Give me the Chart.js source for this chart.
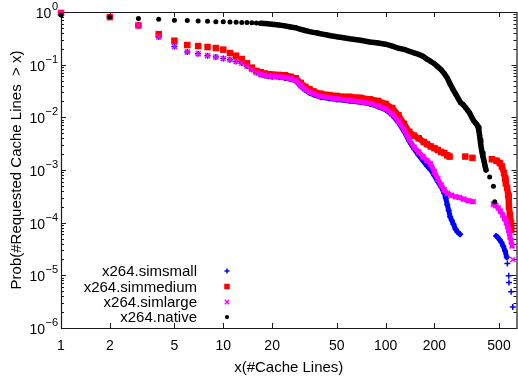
<!DOCTYPE html>
<html><head><meta charset="utf-8">
<script src="https://cdn.jsdelivr.net/npm/chart.js@4/dist/chart.umd.min.js"></script>
<style>html,body{margin:0;padding:0;overflow:hidden;background:#fff}#wrap{width:522px;height:379px}</style>
</head><body><div id="wrap"><canvas id="c" width="522" height="379"></canvas></div>
<script>
// ---- data ----
const xTickValues = [1, 2, 5, 10, 20, 50, 100, 200, 500];
const yTickExponents = [0, -1, -2, -3, -4, -5, -6];
const xTitle = 'x(#Cache Lines)';
const yTitle = 'Prob(#Requested Cache Lines  > x)';
const seriesLabels = ['x264.simsmall', 'x264.simmedium', 'x264.simlarge', 'x264.native'];

const simsmallX = [1,2,3,4,5,6,7,8,9,10,11,12,13,14,15,16,17,18,19,20,22,24,26,28,30,32,34,36,40,45,50,60,70,80,90,100,110,120,130,140,150,160,170,180,190,200,210,220,230,235,240,245,250,256,262,270,278,288,480,493,506,518,531,545,558,563,574,576,594,608];
const simsmallY = [0.96,0.8,0.557,0.335,0.222,0.174,0.161,0.148,0.14,0.131,0.124,0.115,0.107,0.094,0.081,0.071,0.065,0.062,0.06,0.059,0.058,0.056,0.053,0.049,0.039,0.033,0.029,0.027,0.024,0.0228,0.0218,0.0205,0.0193,0.018,0.016,0.014,0.011,0.008,0.0054,0.0035,0.0025,0.0019,0.0015,0.0012,0.001,0.00078,0.0006,0.00048,0.00036,0.00029,0.00022,0.00017,0.00013,0.00011,0.000093,0.000075,0.000066,0.00006,0.000056,0.000052,0.000047,0.000042,0.000036,0.000029,0.000022,0.0000167,0.0000098,0.0000073,0.0000049,0.0000025];
const simsmallBreaks = [288, 558, 563, 574, 576, 594];

const simmediumX = [1,2,3,4,5,6,7,8,9,10,11,12,13,14,15,16,17,18,19,20,22,24,26,28,30,32,34,36,40,45,50,60,70,80,90,100,110,120,130,140,150,160,172,180,190,200,210,220,230,240,248,310,343,452,483,506,521,537,545,551,561,569,576,584,593,595];
const simmediumY = [0.96,0.8,0.557,0.38,0.285,0.236,0.226,0.216,0.207,0.193,0.166,0.148,0.128,0.106,0.088,0.076,0.072,0.068,0.066,0.065,0.064,0.063,0.059,0.055,0.045,0.038,0.034,0.031,0.028,0.0265,0.0255,0.0245,0.0235,0.022,0.0205,0.018,0.015,0.011,0.0075,0.0053,0.0045,0.004,0.0034,0.0031,0.0028,0.0026,0.0024,0.0022,0.0021,0.0019,0.0018,0.0018,0.0017,0.0016,0.0015,0.00136,0.00117,0.00088,0.0007,0.00056,0.00046,0.00034,0.0002,0.00014,0.0001,0.000073];
const simmediumBreaks = [248, 310, 343, 452];

const simlargeX = [1,2,3,4,5,6,7,8,9,10,11,12,13,14,15,16,17,18,19,20,22,24,26,28,30,32,34,36,40,45,50,60,70,80,90,100,110,120,130,140,150,160,170,180,190,200,210,220,230,240,255,270,285,303,325,347,462,478,495,510,527,540,555,565,572,584,594,602,608];
const simlargeY = [0.96,0.8,0.557,0.335,0.222,0.174,0.161,0.148,0.14,0.131,0.124,0.115,0.107,0.094,0.081,0.071,0.066,0.063,0.061,0.06,0.059,0.057,0.054,0.05,0.04,0.034,0.03,0.028,0.025,0.0235,0.0225,0.021,0.0198,0.0185,0.0165,0.0145,0.0115,0.0085,0.0058,0.0038,0.0027,0.0022,0.0018,0.0015,0.0013,0.00092,0.00068,0.00052,0.00042,0.00036,0.00033,0.00031,0.0003,0.00028,0.00026,0.00025,0.000225,0.00021,0.00019,0.000165,0.00014,0.00012,0.0001,0.000085,0.000073,0.000054,0.000045,0.000036,0.00002];
const simlargeBreaks = [347, 602];

const nativeX = [1,2,3,4,5,6,7,8,9,10,11,12,13,14,15,16,17,18,20,22,24,26,28,30,32,34,36,38,40,43,46,50,55,60,70,80,90,100,110,120,130,140,150,160,170,180,190,200,210,220,230,240,250,260,270,280,290,300,310,320,330,340,350,360,366,372,376,380,383,386,390,394,398,402,406,410,416,438,462,471];
const nativeY = [0.88,0.8,0.75,0.725,0.7,0.69,0.675,0.665,0.655,0.65,0.645,0.64,0.635,0.63,0.625,0.618,0.61,0.603,0.585,0.565,0.545,0.52,0.5,0.47,0.445,0.425,0.41,0.4,0.385,0.37,0.355,0.34,0.325,0.31,0.29,0.27,0.258,0.245,0.225,0.205,0.195,0.18,0.167,0.157,0.145,0.127,0.115,0.104,0.091,0.08,0.068,0.056,0.043,0.034,0.028,0.023,0.019,0.0175,0.0155,0.0137,0.012,0.01,0.0085,0.0077,0.0072,0.0065,0.0055,0.0045,0.0037,0.003,0.0025,0.0021,0.0018,0.0016,0.0014,0.0012,0.001,0.00074,0.00049,0.00025];
const nativeBreaks = [416, 438, 462];

// points below this x are drawn as separate markers (not merged into a band)
const DENSE_FROM = 17;

const FONT = '"Liberation Sans", Arial, Helvetica, sans-serif';

const styles = {
  simsmall:  {color: '#0000ff', pointStyle: 'cross',    radius: 3,   pbw: 1.5, lw: 5},
  simmedium: {color: '#ff0000', pointStyle: 'rect',     radius: 4.6, pbw: 0,   lw: 6},
  simlarge:  {color: '#ff00ff', pointStyle: 'crossRot', radius: 3.6, pbw: 1.5, lw: 5},
  native:    {color: '#000000', pointStyle: 'circle',   radius: 2.5, pbw: 0,   lw: 5.5}
};

function makeDataset(label, xs, ys, breaks, st) {
  return {
    label,
    data: xs.map((x, i) => ({x, y: ys[i]})),
    showLine: true,
    borderColor: st.color,
    backgroundColor: st.color,
    borderWidth: st.lw,
    borderCapStyle: 'round',
    borderJoinStyle: 'round',
    pointStyle: st.pointStyle,
    pointRadius: st.radius,
    pointBorderWidth: st.pbw,
    pointBackgroundColor: st.color,
    pointBorderColor: st.color,
    spanGaps: false,
    tension: 0,
    clip: false,
    segment: {
      borderColor: ctx => {
        const x0 = xs[ctx.p0DataIndex];
        return (x0 < DENSE_FROM || breaks.includes(x0)) ? 'rgba(0,0,0,0)' : st.color;
      }
    }
  };
}

// order in array: first drawn last (on top)
const datasets = [
  makeDataset(seriesLabels[3], nativeX, nativeY, nativeBreaks, styles.native),
  makeDataset(seriesLabels[2], simlargeX, simlargeY, simlargeBreaks, styles.simlarge),
  makeDataset(seriesLabels[1], simmediumX, simmediumY, simmediumBreaks, styles.simmedium),
  makeDataset(seriesLabels[0], simsmallX, simsmallY, simsmallBreaks, styles.simsmall)
];

const axisFrame = {
  id: 'axisFrame',
  beforeDatasetsDraw(chart) {
    const {ctx, chartArea: a, scales} = chart;
    const sx = scales.x, sy = scales.y;
    ctx.save();
    ctx.strokeStyle = '#1a1a1a';
    ctx.lineWidth = 1.2;
    ctx.beginPath();
    ctx.rect(a.left + 0.5, a.top + 0.5, a.right - a.left, a.bottom - a.top);
    ctx.stroke();
    ctx.lineWidth = 1;
    ctx.beginPath();
    xTickValues.forEach(v => {
      const p = Math.round(sx.getPixelForValue(v)) + 0.5;
      ctx.moveTo(p, a.bottom); ctx.lineTo(p, a.bottom - 5);
      ctx.moveTo(p, a.top); ctx.lineTo(p, a.top + 5);
    });
    yTickExponents.forEach(e => {
      for (let m = 1; m <= 9; m++) {
        const v = m * Math.pow(10, e);
        if (v > sy.max * 1.0001 || v < sy.min * 0.9999) continue;
        const p = Math.round(sy.getPixelForValue(v)) + 0.5;
        const len = m === 1 ? 5 : 3;
        ctx.moveTo(a.left, p); ctx.lineTo(a.left + len, p);
        ctx.moveTo(a.right, p); ctx.lineTo(a.right - len, p);
      }
    });
    ctx.stroke();

    ctx.fillStyle = '#000';
    // x tick labels
    ctx.font = '14px ' + FONT;
    ctx.textAlign = 'center';
    ctx.textBaseline = 'alphabetic';
    xTickValues.forEach(v => {
      ctx.fillText(String(v), sx.getPixelForValue(v), 349.5);
    });
    // y tick labels 10^e
    yTickExponents.forEach(e => {
      const p = sy.getPixelForValue(Math.pow(10, e));
      const expText = e === 0 ? '0' : '\u2212' + String(-e);
      ctx.font = '11px ' + FONT;
      const ew = ctx.measureText(expText).width;
      const right = a.left - 3;
      ctx.textAlign = 'left';
      ctx.fillText(expText, right - ew, p - 2);
      ctx.font = '14px ' + FONT;
      ctx.textAlign = 'right';
      ctx.fillText('10', right - ew - 0.5, p + 6);
    });
    // axis titles
    ctx.font = '15px ' + FONT;
    ctx.textAlign = 'center';
    ctx.textBaseline = 'alphabetic';
    ctx.fillText(xTitle, (a.left + a.right) / 2, 372);
    ctx.save();
    ctx.translate(21, 170);
    ctx.rotate(-Math.PI / 2);
    ctx.fillText(yTitle, 0, 0);
    ctx.restore();
    ctx.restore();
  },
  afterDraw(chart) {
    const ctx = chart.ctx;
    const order = [styles.simsmall, styles.simmedium, styles.simlarge, styles.native];
    const rowsY = [271, 286.5, 302, 317];
    ctx.save();
    ctx.font = '15px ' + FONT;
    ctx.textAlign = 'right';
    ctx.textBaseline = 'middle';
    seriesLabels.forEach((lab, i) => {
      ctx.fillStyle = '#000';
      ctx.fillText(lab, 197, rowsY[i] + 1);
      const st = order[i];
      ctx.fillStyle = st.color;
      ctx.strokeStyle = st.color;
      ctx.lineWidth = st.pbw || 1;
      Chart.helpers.drawPoint(ctx, {pointStyle: st.pointStyle, radius: st.radius * 0.85, rotation: 0, borderWidth: st.pbw}, 227, rowsY[i]);
    });
    ctx.restore();
  }
};

new Chart(document.getElementById('c'), {
  type: 'line',
  data: {datasets},
  options: {
    responsive: false,
    animation: false,
    events: [],
    layout: {padding: {left: 61, top: 12, right: 2, bottom: 51}},
    scales: {
      x: {type: 'logarithmic', min: 1, max: 641, display: false},
      y: {type: 'logarithmic', min: 1e-6, max: 1, display: false}
    },
    plugins: {legend: {display: false}, tooltip: {enabled: false}}
  },
  plugins: [axisFrame]
});
</script>
</body></html>
